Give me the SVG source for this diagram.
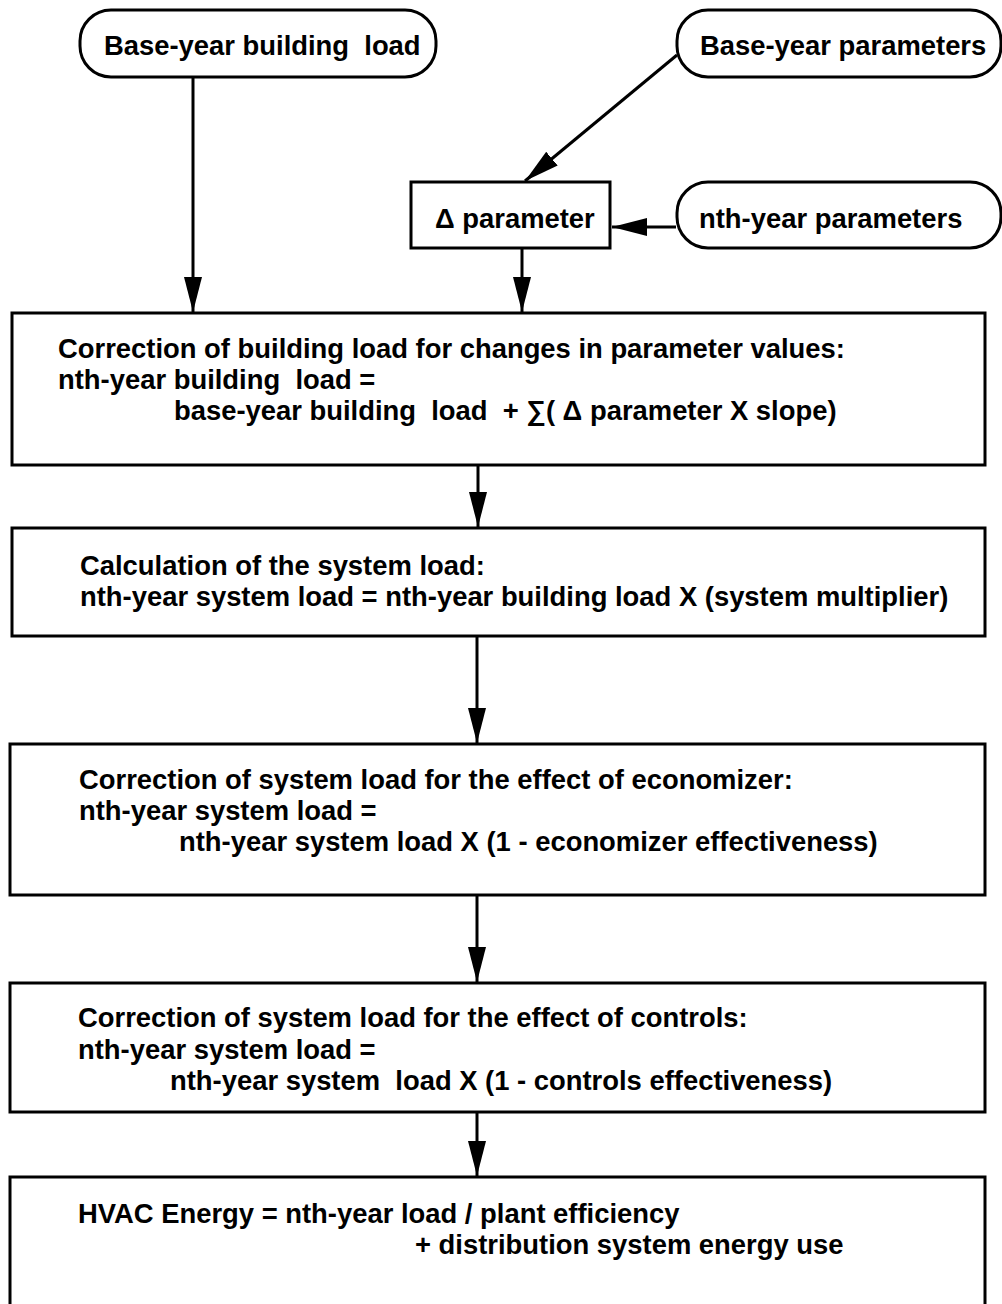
<svg xmlns="http://www.w3.org/2000/svg" width="1002" height="1304" viewBox="0 0 1002 1304">
<style>
  .box { fill: #ffffff; stroke: #000000; stroke-width: 3; }
  .pill { fill: #ffffff; stroke: #000000; stroke-width: 3; }
  .t { font-family: "Liberation Sans", Arial, Helvetica, sans-serif; font-size: 27.4px; font-weight: bold; fill: #000000; white-space: pre; }
  .conn { stroke: #000000; stroke-width: 3; fill: none; marker-end: url(#arrow); }
</style>
<defs>
  <marker id="arrow" markerUnits="userSpaceOnUse" markerWidth="36" markerHeight="20" refX="35" refY="9" orient="auto">
    <path d="M0,0 L35,9 L0,18 Z" fill="#000000"/>
  </marker>
</defs>
<rect width="1002" height="1304" fill="#ffffff"/>

<g id="connectors">
  <line class="conn" x1="193" y1="77" x2="193" y2="312"/>
  <line class="conn" x1="677" y1="55" x2="525" y2="181"/>
  <line class="conn" x1="676" y1="227" x2="612" y2="227"/>
  <line class="conn" x1="522" y1="248" x2="522" y2="312"/>
  <line class="conn" x1="478" y1="465" x2="478" y2="527"/>
  <line class="conn" x1="477" y1="636" x2="477" y2="743"/>
  <line class="conn" x1="477" y1="895" x2="477" y2="982"/>
  <line class="conn" x1="477" y1="1112" x2="477" y2="1176"/>
</g>

<g id="base-year-building-load">
  <rect class="pill" x="80" y="10" width="356" height="67" rx="31" ry="31"/>
  <text class="t" x="104" y="55" xml:space="preserve">Base-year building  load</text>
</g>

<g id="base-year-parameters">
  <rect class="pill" x="677" y="10" width="324" height="67" rx="31" ry="31"/>
  <text class="t" x="700" y="55">Base-year parameters</text>
</g>

<g id="delta-parameter">
  <rect class="box" x="411" y="182" width="199" height="66"/>
  <text class="t" x="435" y="228">Δ parameter</text>
</g>

<g id="nth-year-parameters">
  <rect class="pill" x="677" y="182" width="324" height="66" rx="31" ry="31"/>
  <text class="t" x="699" y="228">nth-year parameters</text>
</g>

<g id="building-load-correction">
  <rect class="box" x="12" y="313" width="973" height="152"/>
  <text class="t" x="58" y="358">Correction of building load for changes in parameter values:</text>
  <text class="t" x="58" y="389" xml:space="preserve">nth-year building  load =</text>
  <text class="t" x="174" y="420" xml:space="preserve">base-year building  load  + ∑( Δ parameter X slope)</text>
</g>

<g id="system-load">
  <rect class="box" x="12" y="528" width="973" height="108"/>
  <text class="t" x="80" y="575">Calculation of the system load:</text>
  <text class="t" x="80" y="606">nth-year system load = nth-year building load X (system multiplier)</text>
</g>

<g id="economizer-correction">
  <rect class="box" x="10" y="744" width="975" height="151"/>
  <text class="t" x="79" y="789">Correction of system load for the effect of economizer:</text>
  <text class="t" x="79" y="820">nth-year system load =</text>
  <text class="t" x="179" y="851">nth-year system load X (1 - economizer effectiveness)</text>
</g>

<g id="controls-correction">
  <rect class="box" x="10" y="983" width="975" height="129"/>
  <text class="t" x="78" y="1027">Correction of system load for the effect of controls:</text>
  <text class="t" x="78" y="1059">nth-year system load =</text>
  <text class="t" x="170" y="1090" xml:space="preserve">nth-year system  load X (1 - controls effectiveness)</text>
</g>

<g id="hvac-energy">
  <rect class="box" x="10" y="1177" width="975" height="140"/>
  <text class="t" x="78" y="1223">HVAC Energy = nth-year load / plant efficiency</text>
  <text class="t" x="415" y="1254">+ distribution system energy use</text>
</g>
</svg>
